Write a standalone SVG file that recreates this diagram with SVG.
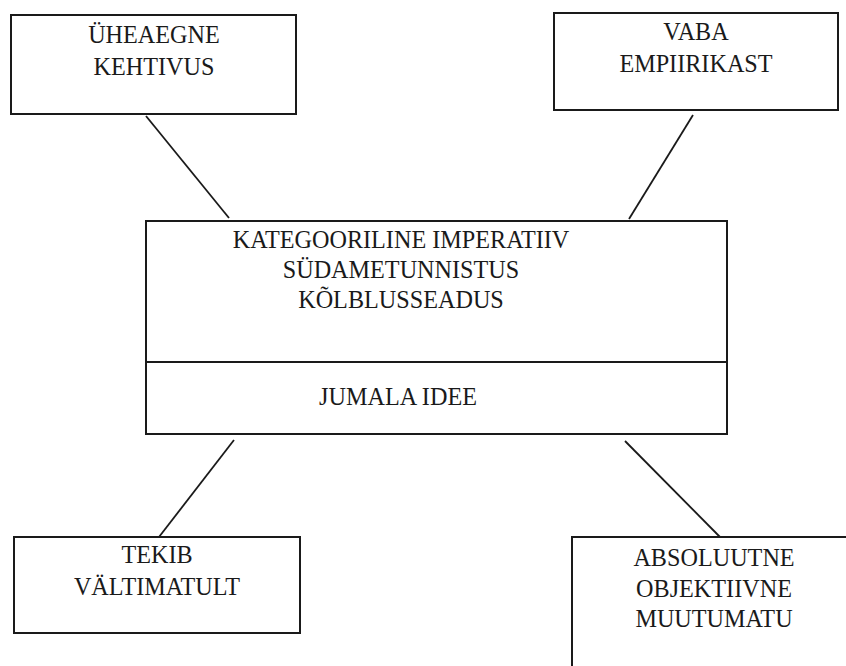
<svg xmlns="http://www.w3.org/2000/svg" width="846" height="666" viewBox="0 0 846 666">
<style>
.box{fill:#fff;stroke:#1a1a1a;stroke-width:2}
.t{font-family:"Liberation Serif","Times New Roman",serif;font-size:24.2px;fill:#1a1a1a;text-anchor:middle}
.c{stroke:#1a1a1a;stroke-width:1.8;fill:none}
</style>
<rect width="846" height="666" fill="#fff"/>
<g id="connectors">
<line class="c" x1="146" y1="116" x2="229" y2="218"/>
<line class="c" x1="693" y1="115" x2="629" y2="219"/>
<line class="c" x1="234" y1="440" x2="159" y2="537"/>
<line class="c" x1="625" y1="441" x2="720" y2="537"/>
</g>
<g id="n-uheaegne">
<rect class="box" x="11" y="15" width="285" height="99"/>
<text class="t" x="154" y="43">ÜHEAEGNE</text>
<text class="t" x="154" y="75">KEHTIVUS</text>
</g>
<g id="n-vaba">
<rect class="box" x="554" y="13" width="284" height="97"/>
<text class="t" x="696" y="40">VABA</text>
<text class="t" x="696" y="72">EMPIIRIKAST</text>
</g>
<g id="n-center">
<rect class="box" x="146" y="221" width="581" height="213"/>
<line class="c" x1="146" y1="362" x2="727" y2="362"/>
<text class="t" x="401" y="248">KATEGOORILINE IMPERATIIV</text>
<text class="t" x="401" y="278">SÜDAMETUNNISTUS</text>
<text class="t" x="401" y="308">KÕLBLUSSEADUS</text>
<text class="t" x="398" y="405">JUMALA IDEE</text>
</g>
<g id="n-tekib">
<rect class="box" x="14" y="537" width="286" height="96"/>
<text class="t" x="157" y="563">TEKIB</text>
<text class="t" x="157" y="595">VÄLTIMATULT</text>
</g>
<g id="n-absoluutne">
<rect class="box" x="572" y="537" width="290" height="140"/>
<text class="t" x="714" y="566">ABSOLUUTNE</text>
<text class="t" x="714" y="597">OBJEKTIIVNE</text>
<text class="t" x="714" y="627">MUUTUMATU</text>
</g>
</svg>
